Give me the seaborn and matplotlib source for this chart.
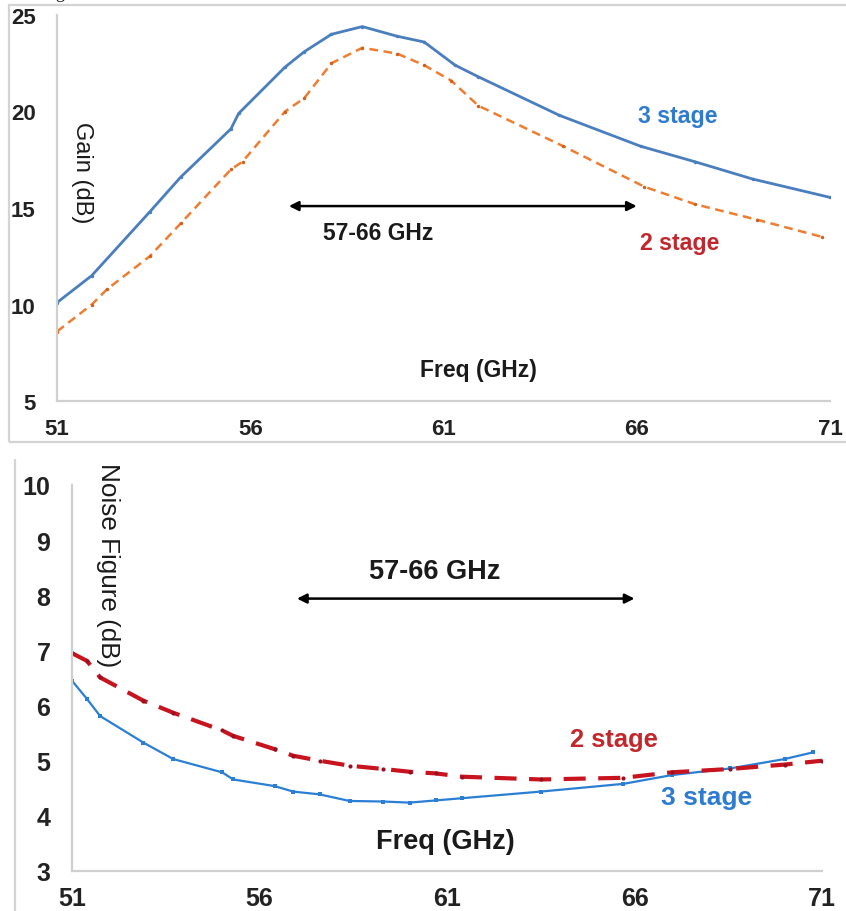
import numpy as np
import pandas as pd
import matplotlib
matplotlib.use("Agg")
import matplotlib.pyplot as plt
import seaborn as sns
from matplotlib.patches import Rectangle
from matplotlib.lines import Line2D

# Data
freq_gain_3 = [51.0, 51.9, 53.4, 54.2, 55.5, 55.7, 56.9, 57.4, 58.1, 58.9, 59.8, 60.5,
               61.3, 61.9, 64.0, 66.1, 67.5, 69.0, 71.0]
gain_3 = [10.1, 11.5, 14.8, 16.6, 19.1, 19.9, 22.3, 23.1, 24.0, 24.4, 23.9, 23.6,
          22.4, 21.8, 19.8, 18.2, 17.4, 16.5, 15.55]
freq_gain_2 = [51.0, 51.9, 52.3, 53.4, 54.2, 55.5, 55.8, 56.9, 57.4, 58.1, 58.9, 59.8,
               60.5, 61.2, 61.9, 64.1, 66.2, 67.5, 69.1, 70.8]
gain_2 = [8.6, 10.0, 10.8, 12.5, 14.2, 17.0, 17.4, 20.0, 20.7, 22.5, 23.3, 23.0,
          22.4, 21.6, 20.3, 18.2, 16.1, 15.2, 14.4, 13.5]

freq_nf_3 = [51.0, 51.4, 51.75, 52.9, 53.7, 55.0, 55.3, 56.4, 56.9, 57.6, 58.4, 59.3,
             60.0, 60.7, 61.4, 63.5, 65.7, 67.0, 68.55, 70.0, 70.75]
nf_3 = [6.45, 6.12, 5.81, 5.33, 5.03, 4.79, 4.66, 4.54, 4.44, 4.39, 4.27, 4.26,
        4.24, 4.28, 4.32, 4.44, 4.58, 4.74, 4.86, 5.03, 5.15]
freq_nf_2 = [51.0, 51.4, 51.75, 52.9, 53.7, 55.0, 55.3, 56.4, 56.9, 57.6, 58.4, 59.3,
             60.0, 60.7, 61.4, 63.5, 65.7, 67.0, 68.55, 70.0, 71.0]
nf_2 = [6.95, 6.81, 6.51, 6.09, 5.87, 5.55, 5.45, 5.21, 5.09, 5.00, 4.91, 4.85,
        4.80, 4.77, 4.71, 4.66, 4.69, 4.79, 4.85, 4.93, 5.00]

x_ticks = [51, 56, 61, 66, 71]
gain_ticks = [5, 10, 15, 20, 25]
nf_ticks = [3, 4, 5, 6, 7, 8, 9, 10]
band = (57, 66)

sns.set_style("white")
plt.rcParams["font.family"] = ["Liberation Sans", "DejaVu Sans"]

fig = plt.figure(figsize=(8.46, 9.12), dpi=100)
W, H = 846, 912

def px_axes(x0, x1, y0, y1):
    return fig.add_axes([x0 / W, 1 - y1 / H, (x1 - x0) / W, (y1 - y0) / H])

ax1 = px_axes(57, 830, 16, 402)
ax2 = px_axes(72, 822, 486, 872)

axis_grey = "#d0d0d0"
tick_col = "#222222"
text_col = "#1a1a1a"
blue_txt = "#2E7BCF"
red_txt = "#C0282D"

def style_axes(ax, tick_size, ylen, xpad, ypad):
    sns.despine(ax=ax)
    for s in ("left", "bottom"):
        ax.spines[s].set_color(axis_grey)
        ax.spines[s].set_linewidth(1.6)
    ax.tick_params(axis="y", direction="out", length=ylen, width=1.4, color=axis_grey,
                   pad=ypad, labelsize=tick_size, labelcolor=tick_col)
    ax.tick_params(axis="x", direction="out", length=3.6, width=1.4, color=axis_grey,
                   pad=xpad, labelsize=tick_size, labelcolor=tick_col)
    ax.set_xlim(51, 71)
    ax.set_xticks(x_ticks)
    ax.set_xlabel("")
    ax.set_ylabel("")
    for lab in ax.get_xticklabels() + ax.get_yticklabels():
        lab.set_fontweight("bold")

# --- top: gain ---
df_g3 = pd.DataFrame({"freq": freq_gain_3, "gain": gain_3})
df_g2 = pd.DataFrame({"freq": freq_gain_2, "gain": gain_2})
sns.lineplot(data=df_g3, x="freq", y="gain", ax=ax1, color="#4A7EBF", linewidth=2.0,
             marker="o", markersize=2.5, markeredgewidth=0)
sns.lineplot(data=df_g2, x="freq", y="gain", ax=ax1, color="#ED7D31", linewidth=1.8,
             linestyle=(0, (3.5, 2.2)), marker="o", markersize=2.5, markeredgewidth=0,
             markerfacecolor="#D0601A")
ax1.set_ylim(5, 25)
ax1.set_yticks(gain_ticks)
style_axes(ax1, 16, 5.8, 8.5, 9.5)
ax1.annotate("", xy=(band[0], 15.1), xytext=(band[1], 15.1),
             arrowprops=dict(arrowstyle="<|-|>", color="black", lw=1.8,
                             mutation_scale=14, shrinkA=0, shrinkB=0))
ax1.text(59.3, 13.75, "57-66 GHz", ha="center", va="center", fontsize=16.5,
         fontweight="bold", color=text_col)
ax1.text(61.9, 6.65, "Freq (GHz)", ha="center", va="center", fontsize=16.5,
         fontweight="bold", color=text_col)
ax1.text(51.65, 16.9, "Gain (dB)", ha="center", va="center", rotation=270,
         fontsize=17, color=text_col)
ax1.text(67.06, 19.8, "3 stage", ha="center", va="center", fontsize=16.7,
         fontweight="bold", color=blue_txt)
ax1.text(67.1, 13.2, "2 stage", ha="center", va="center", fontsize=16.7,
         fontweight="bold", color=red_txt)

# --- bottom: noise figure ---
df_n3 = pd.DataFrame({"freq": freq_nf_3, "nf": nf_3})
df_n2 = pd.DataFrame({"freq": freq_nf_2, "nf": nf_2})
sns.lineplot(data=df_n3, x="freq", y="nf", ax=ax2, color="#2A7FD4", linewidth=1.6,
             marker="s", markersize=3.5, markeredgewidth=0)
sns.lineplot(data=df_n2, x="freq", y="nf", ax=ax2, color="#C8141E", linewidth=3.0,
             linestyle=(0, (5.3, 3)), marker="o", markersize=3, markeredgewidth=0,
             markerfacecolor="#9a1020")
ax2.set_ylim(3, 10)
ax2.set_yticks(nf_ticks)
style_axes(ax2, 18, 6.5, 7.5, 9)
ax2.annotate("", xy=(band[0], 7.94), xytext=(band[1], 7.94),
             arrowprops=dict(arrowstyle="<|-|>", color="black", lw=1.8,
                             mutation_scale=14, shrinkA=0, shrinkB=0))
ax2.text(60.68, 8.44, "57-66 GHz", ha="center", va="center", fontsize=19.5,
         fontweight="bold", color=text_col)
ax2.text(60.95, 3.54, "Freq (GHz)", ha="center", va="center", fontsize=19.5,
         fontweight="bold", color=text_col)
ax2.text(51.96, 8.56, "Noise Figure (dB)", ha="center", va="center", rotation=270,
         fontsize=18.8, color=text_col, clip_on=False)
ax2.text(65.45, 5.39, "2 stage", ha="center", va="center", fontsize=18.4,
         fontweight="bold", color=red_txt)
ax2.text(67.93, 4.34, "3 stage", ha="center", va="center", fontsize=19,
         fontweight="bold", color=blue_txt)

# chart-area frames
fig.add_artist(Rectangle((9 / W, 1 - 443 / H), (W + 5 - 9) / W, (443 - 6) / H,
                         transform=fig.transFigure, fill=False, edgecolor="#d4d4d4",
                         linewidth=1.6))
fig.add_artist(Line2D([15 / W, 15 / W], [1 - 461 / H, 0], transform=fig.transFigure,
                      color="#d4d4d4", linewidth=1.6))
# descender of a caption cut off at the top edge
fig.text(60 / W, 1 + 2 / H, "g", ha="center", va="baseline", fontsize=13,
         family="Liberation Serif", color="#222222")

fig.savefig("out.png", dpi=100)
